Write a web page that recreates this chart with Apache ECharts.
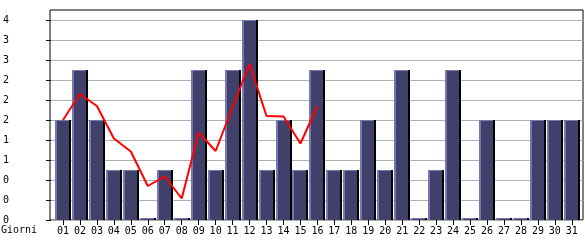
<!DOCTYPE html>
<html><head><meta charset="utf-8">
<script src="https://cdn.jsdelivr.net/npm/echarts@6/dist/echarts.min.js"></script>
<style>html,body{margin:0;padding:0;background:#fff}#c{width:585px;height:240px}</style>
</head><body><div id="c"></div>
<script>
const days = ['01','02','03','04','05','06','07','08','09','10','11','12','13','14','15','16','17','18','19','20','21','22','23','24','25','26','27','28','29','30','31'];
const visits = [2,3,2,1,1,0,1,0,3,1,3,4,1,2,1,3,1,1,2,1,3,0,1,3,0,2,0,0,2,2,2];
const trend = [2.0,2.52,2.28,1.63,1.37,0.68,0.87,0.43,1.75,1.38,2.26,3.12,2.08,2.07,1.53,2.28];
const yTickLabels = ['0','0','0','1','1','2','2','2','3','3','4'];
const xName = 'Giorni';

const FONT = 'DejaVu Sans Mono';
const EDGE = '#7676b2', DARK = '#40406a';
const chart = echarts.init(document.getElementById('c'));
chart.setOption({
  animation: false,
  backgroundColor: '#fff',
  title: { text: xName, left: 1, top: 225, padding: 0,
    textStyle: { fontFamily: FONT, fontSize: 10, fontWeight: 'normal', color: '#000' } },
  grid: [
    { left: 50, right: 2, top: 10, bottom: 20, show: true, borderColor: '#000', borderWidth: 1, backgroundColor: 'transparent' },
    { left: 50, right: 2, top: 20, bottom: 20 },
    { left: 54.5, right: 4.7, top: 20, bottom: 20 }
  ],
  xAxis: [
    { gridIndex: 0, type: 'value', show: false, min: 0, max: 1 },
    { gridIndex: 1, type: 'value', show: false, min: 0, max: 1 },
    { gridIndex: 2, type: 'category', data: days, boundaryGap: true,
      axisLine: { show: false },
      axisTick: { show: true, alignWithLabel: true, length: 5, lineStyle: { color: '#000' } },
      axisLabel: { margin: 6, fontFamily: FONT, fontSize: 10, color: '#000', interval: 0 },
      splitLine: { show: false } }
  ],
  yAxis: [
    { gridIndex: 0, type: 'value', show: false, min: 0, max: 1 },
    { gridIndex: 1, type: 'value', min: 0, max: 4, interval: 0.4,
      axisLine: { show: false },
      axisTick: { show: true, length: 5, lineStyle: { color: '#000' } },
      axisLabel: { align: 'left', margin: 48, fontFamily: FONT, fontSize: 10, color: '#000',
        formatter: v => { const i = Math.round(v / 0.4); return yTickLabels[i] !== undefined ? yTickLabels[i] : ''; } },
      splitLine: { show: true, lineStyle: { color: '#b0b0b0', width: 1 } } },
    { gridIndex: 2, type: 'value', min: 0, max: 4, show: false }
  ],
  series: [
    { type: 'custom', xAxisIndex: 2, yAxisIndex: 2, z: 3,
      data: visits.map((v, i) => [i, v]),
      renderItem: (params, api) => {
        const idx = api.value(0), v = api.value(1);
        const base = api.coord([idx, 0]);
        const top = api.coord([idx, v]);
        const bw = api.size([1, 0])[0];
        const left = Math.round(base[0] - bw * 0.47);
        const body = Math.round(bw * 0.83);
        const sh = Math.max(2, Math.round(bw * 0.11));
        let h = base[1] - top[1];
        if (h < 2) h = 2;
        const y0 = Math.round(base[1] - h);
        const hh = Math.round(base[1]) - y0;
        return { type: 'group', children: [
          { type: 'rect', shape: { x: left, y: y0, width: body, height: hh }, style: { fill: EDGE } },
          { type: 'rect', shape: { x: left + 2, y: y0 + 1, width: body - 2, height: Math.max(0, hh - 1) }, style: { fill: DARK } },
          { type: 'rect', shape: { x: left + body, y: y0, width: sh, height: hh }, style: { fill: '#000' } }
        ] };
      } },
    { type: 'line', xAxisIndex: 2, yAxisIndex: 2, z: 5, data: trend, showSymbol: false, symbol: 'none',
      lineStyle: { color: '#ff0000', width: 2 }, itemStyle: { color: '#ff0000' } }
  ]
});
</script></body></html>
